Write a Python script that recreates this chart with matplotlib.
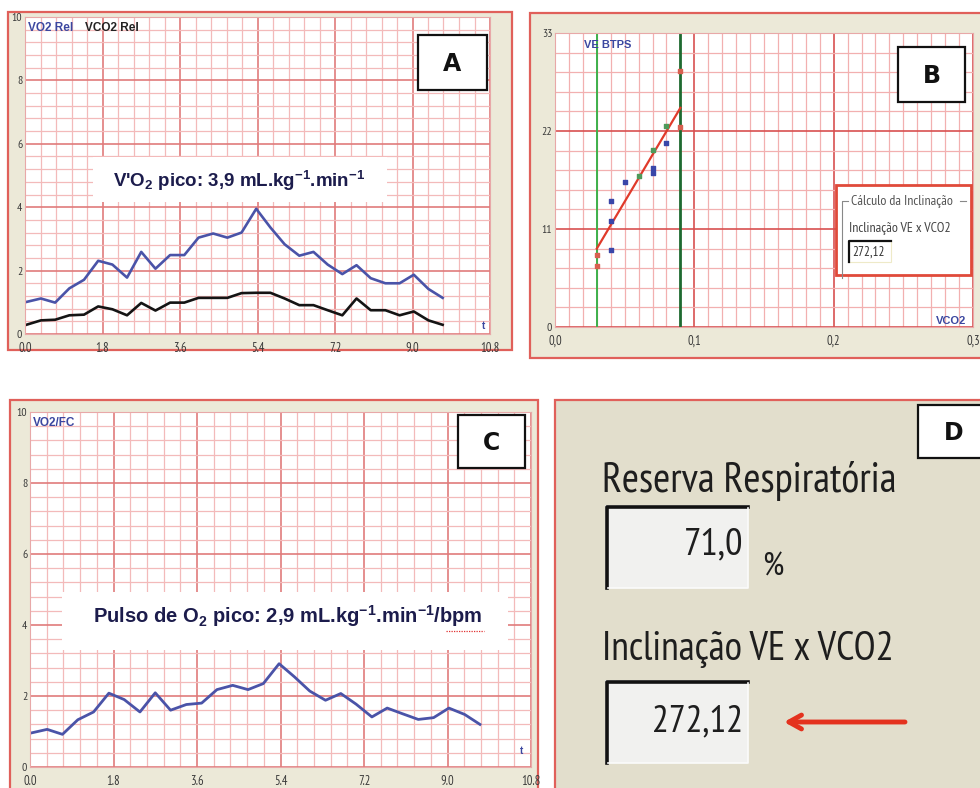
import numpy as np
import matplotlib
matplotlib.use("Agg")
import matplotlib.pyplot as plt
from matplotlib.patches import Rectangle
from matplotlib import font_manager as fm

# ---------------- data ----------------
t_min = [0.03, 0.37, 0.70, 1.03, 1.37, 1.70, 2.03, 2.37, 2.70, 3.03,
         3.37, 3.70, 4.03, 4.37, 4.70, 5.03, 5.37, 5.70, 6.03, 6.37,
         6.70, 7.03, 7.37, 7.70, 8.03, 8.37, 8.70, 9.03, 9.37, 9.70]
vo2_rel = [1.01, 1.12, 0.99, 1.44, 1.71, 2.31, 2.19, 1.78, 2.59, 2.06,
           2.49, 2.49, 3.04, 3.17, 3.04, 3.20, 3.95, 3.36, 2.83, 2.47,
           2.59, 2.19, 1.89, 2.17, 1.76, 1.60, 1.60, 1.87, 1.42, 1.14]
vco2_rel = [0.29, 0.43, 0.45, 0.59, 0.61, 0.87, 0.78, 0.59, 0.98, 0.74,
            0.99, 0.99, 1.14, 1.14, 1.14, 1.29, 1.30, 1.30, 1.12, 0.91,
            0.91, 0.75, 0.59, 1.12, 0.75, 0.75, 0.59, 0.71, 0.43, 0.29]
vo2_fc = [0.96, 1.06, 0.92, 1.33, 1.55, 2.08, 1.90, 1.55, 2.09, 1.60,
          1.76, 1.80, 2.18, 2.30, 2.18, 2.35, 2.91, 2.54, 2.14, 1.88,
          2.07, 1.77, 1.41, 1.66, 1.50, 1.34, 1.39, 1.66, 1.48, 1.20]
time_ticks = [0.0, 1.8, 3.6, 5.4, 7.2, 9.0, 10.8]
time_ticklabels = ["0.0", "1.8", "3.6", "5.4", "7.2", "9.0", "10.8"]
rel_ticks = [0, 2, 4, 6, 8, 10]
rel_ticklabels = ["0", "2", "4", "6", "8", "10"]

b_vco2_blue = [0.04, 0.04, 0.04, 0.05, 0.07, 0.07, 0.08]
b_ve_blue = [14.1, 11.9, 8.6, 16.3, 17.8, 17.3, 20.7]
b_vco2_green = [0.06, 0.07, 0.08]
b_ve_green = [17.0, 19.9, 22.6]
b_vco2_red = [0.03, 0.03, 0.09, 0.09]
b_ve_red = [8.1, 6.8, 28.7, 22.5]
fit_vco2 = [0.03, 0.09]
fit_ve = [8.8, 24.6]
threshold_vco2 = [0.03, 0.09]
b_xticks = [0.0, 0.1, 0.2, 0.3]
b_xticklabels = ["0,0", "0,1", "0,2", "0,3"]
b_yticks = [0, 11, 22, 33]
b_yticklabels = ["0", "11", "22", "33"]

slope_value = "272,12"
reserve_value = "71,0"

# ---------------- fonts ----------------
def has_font(name):
    try:
        fm.findfont(fm.FontProperties(family=name), fallback_to_default=False)
        return True
    except Exception:
        return False

NARROW = "DejaVu Sans"
for cand in ["PT Sans Narrow", "Archivo Narrow", "Liberation Sans Narrow"]:
    if has_font(cand):
        NARROW = cand
        break
SANS = "Liberation Sans" if has_font("Liberation Sans") else "DejaVu Sans"
plt.rcParams["mathtext.fontset"] = "custom"
plt.rcParams["mathtext.bf"] = SANS + ":bold"
plt.rcParams["mathtext.rm"] = SANS

# ---------------- colours ----------------
W, H = 980, 788
BEIGE = "#ECE9D8"
D_BEIGE = "#E2DECC"
FRAME = "#E0605A"
MINOR = "#F3BABA"
MAJOR = "#E07B7B"
BLUE_TXT = "#3B47A0"
BLUE_LINE = "#4A53A8"
NAVY = "#1C1C4C"
TICK_C = "#3A3A3A"
XTS, YTS = 9, 8.5

fig = plt.figure(figsize=(W / 100, H / 100), dpi=100)
fig.patch.set_facecolor("white")

bg = fig.add_axes([0, 0, 1, 1], zorder=0)
bg.set_xlim(0, W); bg.set_ylim(H, 0); bg.axis("off")

# panel frames
bg.add_patch(Rectangle((8, 12), 504, 338, fc=BEIGE, ec=FRAME, lw=1.6))
bg.add_patch(Rectangle((530, 13), 460, 345, fc=BEIGE, ec=FRAME, lw=1.6))
bg.add_patch(Rectangle((10, 400), 528, 400, fc=BEIGE, ec=FRAME, lw=1.6))
bg.add_patch(Rectangle((555, 400), 440, 400, fc=D_BEIGE, ec=FRAME, lw=1.6))


def pax(x0, y0, x1, y1):
    return fig.add_axes([x0 / W, 1 - y1 / H, (x1 - x0) / W, (y1 - y0) / H], zorder=1)


def style(ax, xmaj, xlabels, xmin_step, ymaj, ylabels, ymin_step, xlim, ylim,
          major=MAJOR, minor=MINOR):
    ax.set_facecolor("white")
    ax.set_xlim(*xlim); ax.set_ylim(*ylim)
    ax.set_xticks(xmaj)
    ax.set_xticklabels(xlabels, family=NARROW, fontsize=XTS, color=TICK_C)
    ax.set_yticks(ymaj)
    ax.set_yticklabels(ylabels, family=NARROW, fontsize=YTS, color=TICK_C)
    ax.set_xticks(np.arange(xlim[0], xlim[1] + 1e-9, xmin_step), minor=True)
    ax.set_yticks(np.arange(ylim[0], ylim[1] + 1e-9, ymin_step), minor=True)
    ax.grid(which="minor", color=minor, lw=0.9)
    ax.grid(which="major", color=major, lw=1.2)
    ax.set_axisbelow(True)
    ax.tick_params(which="both", length=0)
    ax.tick_params(axis="x", pad=5.5)
    ax.tick_params(axis="y", pad=2)
    for s in ax.spines.values():
        s.set_color("#E8A8A8"); s.set_linewidth(0.8)


# ---------------- panel A ----------------
axA = pax(25, 17, 490, 334)
style(axA, time_ticks, time_ticklabels, 0.36, rel_ticks, rel_ticklabels, 0.4,
      (0, 10.8), (0, 10))
axA.plot(t_min, vo2_rel, color=BLUE_LINE, lw=1.9, solid_joinstyle="round")
axA.plot(t_min, vco2_rel, color="#141414", lw=1.9, solid_joinstyle="round")
axA.text(0.006, 0.985, "VO2 Rel", transform=axA.transAxes, color=BLUE_TXT,
         fontsize=8.5, fontweight="bold", family=SANS, ha="left", va="top")
axA.text(0.128, 0.985, "VCO2 Rel", transform=axA.transAxes, color="#222222",
         fontsize=8.5, fontweight="bold", family=SANS, ha="left", va="top")
axA.text(0.99, 0.01, "t", transform=axA.transAxes, color=BLUE_TXT,
         fontsize=7, fontweight="bold", family=SANS, ha="right", va="bottom")

# ---------------- panel B ----------------
axB = pax(555, 33, 973, 327)
style(axB, b_xticks, b_xticklabels, 0.01, b_yticks, b_yticklabels, 2.2,
      (0, 0.3), (0, 33), major="#D85050", minor="#F2B0B0")
axB.axvline(threshold_vco2[0], color="#3DB04A", lw=1.4)
axB.axvline(threshold_vco2[1], color="#1E6A30", lw=2.0)
axB.plot(fit_vco2, fit_ve, color="#E03A2A", lw=1.6)
axB.scatter(b_vco2_blue, b_ve_blue, marker="s", s=8, color="#3A46A8", zorder=3)
axB.scatter(b_vco2_green, b_ve_green, marker="s", s=7, color="#4E9A5A", zorder=3)
axB.scatter(b_vco2_red, b_ve_red, marker="s", s=6, color="#D86050", zorder=3)
axB.text(0.07, 0.975, "VE BTPS", transform=axB.transAxes, color=BLUE_TXT,
         fontsize=8, fontweight="bold", family=SANS, ha="left", va="top")
axB.text(0.985, 0.005, "VCO2", transform=axB.transAxes, color=BLUE_TXT,
         fontsize=8, fontweight="bold", family=SANS, ha="right", va="bottom")

# ---------------- panel C ----------------
axC = pax(30, 412, 531, 767)
style(axC, time_ticks, time_ticklabels, 0.36, rel_ticks, rel_ticklabels, 0.4,
      (0, 10.8), (0, 10))
axC.plot(t_min, vo2_fc, color=BLUE_LINE, lw=2.0, solid_joinstyle="round")
axC.text(0.006, 0.985, "VO2/FC", transform=axC.transAxes, color=BLUE_TXT,
         fontsize=8.5, fontweight="bold", family=SANS, ha="left", va="top")
axC.text(0.985, 0.03, "t", transform=axC.transAxes, color=BLUE_TXT,
         fontsize=7, fontweight="bold", family=SANS, ha="right", va="bottom")

# ---------------- overlay ----------------
ov = fig.add_axes([0, 0, 1, 1], zorder=2)
ov.set_xlim(0, W); ov.set_ylim(H, 0); ov.axis("off"); ov.patch.set_alpha(0)


def label_box(x0, y0, x1, y1, letter):
    ov.add_patch(Rectangle((x0, y0), x1 - x0, y1 - y0, fc="white", ec="#111111", lw=1.6))
    ov.text((x0 + x1) / 2, (y0 + y1) / 2 + 1, letter, ha="center", va="center",
            fontsize=17, fontweight="heavy", family="DejaVu Sans", color="#111111")


label_box(418, 35, 487, 90, "A")
label_box(898, 47, 965, 102, "B")
label_box(458, 415, 525, 468, "C")
label_box(918, 405, 990, 458, "D")

# annotation A
ov.add_patch(Rectangle((93, 157), 294, 45, fc="white", ec="none"))
ov.text(239, 181, r"V'O$\mathbf{_2}$ pico: 3,9 mL.kg$\mathbf{^{-1}}$.min$\mathbf{^{-1}}$",
        ha="center", va="center", fontsize=13.5, fontweight="bold", family=SANS, color=NAVY)

# annotation C
ov.add_patch(Rectangle((62, 592), 446, 58, fc="white", ec="none"))
ov.text(288, 616, r"Pulso de O$\mathbf{_2}$ pico: 2,9 mL.kg$\mathbf{^{-1}}$.min$\mathbf{^{-1}}$/bpm",
        ha="center", va="center", fontsize=14.5, fontweight="bold", family=SANS, color=NAVY)
ov.plot([446, 484], [631, 631], color="#E03030", lw=0.9, ls=(0, (1, 1)))

# info box in B
ov.add_patch(Rectangle((836, 185), 135, 90, fc="white", ec="#E04A3A", lw=2))
ov.plot([842, 842, 848], [278, 201, 201], color="#888888", lw=0.8)
ov.plot([960, 966], [201, 201], color="#888888", lw=0.8)
ov.text(851, 201, "Cálculo da Inclinação", ha="left", va="center", fontsize=10,
        family=NARROW, color="#555555")
ov.text(849, 228, "Inclinação VE x VCO2", ha="left", va="center", fontsize=10,
        family=NARROW, color="#444444")
ov.add_patch(Rectangle((849, 241), 42, 21, fc="white", ec="#EEEAC8", lw=0.8))
ov.plot([849, 849, 891], [262, 241, 241], color="#111111", lw=1.6)
ov.text(852, 252, slope_value, ha="left", va="center", fontsize=9.5,
        family=NARROW, color="#333333")

# ---------------- panel D ----------------
D_TXT = "#1E1E1E"


def sunken(x0, y0, x1, y1):
    ov.add_patch(Rectangle((x0, y0), x1 - x0, y1 - y0, fc="#F1F1EF", ec="none"))
    ov.plot([x1, x0 + 1.5, x0 + 1.5], [y0 + 1.5, y0 + 1.5, y1], color="#111111", lw=2.6)
    ov.plot([x0 + 3, x1, x1], [y1, y1, y0 + 3], color="#FBFBFB", lw=1.2)


ov.text(602, 481, "Reserva Respiratória", ha="left", va="center",
        fontsize=30, family=NARROW, color=D_TXT)
sunken(605, 505, 748, 588)
ov.text(743, 545, reserve_value, ha="right", va="center",
        fontsize=28, family=NARROW, color=D_TXT)
ov.text(773, 568, "%", ha="center", va="center",
        fontsize=24, family=NARROW, color=D_TXT)
ov.text(602, 650, "Inclinação VE x VCO2", ha="left", va="center",
        fontsize=28.8, family=NARROW, color=D_TXT)
sunken(605, 680, 748, 763)
ov.text(743, 722, slope_value, ha="right", va="center",
        fontsize=27, family=NARROW, color=D_TXT)
ov.annotate("", xy=(784, 722), xytext=(905, 722),
            arrowprops=dict(arrowstyle="->,head_length=0.9,head_width=0.5",
                            color="#E4321E", lw=3.5, shrinkA=0, shrinkB=0))

fig.savefig("out.png", dpi=100, facecolor="white")
